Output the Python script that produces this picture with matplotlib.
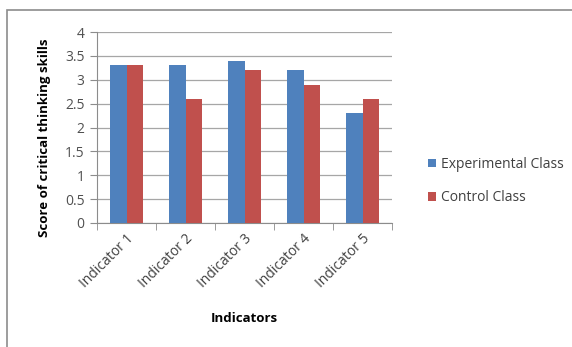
import numpy as np
import matplotlib.pyplot as plt
from matplotlib.patches import Rectangle

categories = ['Indicator 1', 'Indicator 2', 'Indicator 3', 'Indicator 4', 'Indicator 5']
experimental = [3.3, 3.3, 3.4, 3.2, 2.3]
control = [3.3, 2.6, 3.2, 2.9, 2.6]
yticks = [0, 0.5, 1, 1.5, 2, 2.5, 3, 3.5, 4]
ytick_labels = ['0', '0.5', '1', '1.5', '2', '2.5', '3', '3.5', '4']

plt.rcParams['font.family'] = ['Open Sans', 'DejaVu Sans']

fig = plt.figure(figsize=(5.72, 3.47), dpi=100)
ax = fig.add_axes([97/572, 1 - 223/347, 295/572, 191/347])

# outer chart frame (only top and left visible)
fig.patches.append(Rectangle((7/572, -0.1), 1.2, 1 - 10/347 + 0.1, transform=fig.transFigure,
                             fill=False, edgecolor='#8c8c8c', linewidth=1.2))

x = np.arange(len(categories))
w = 0.285
ax.bar(x - w/2, experimental, w, color='#4F81BD', label='Experimental Class', zorder=3)
ax.bar(x + w/2, control, w, color='#C0504D', label='Control Class', zorder=3)

ax.set_xlim(-0.5, len(categories) - 0.5)
ax.set_ylim(0, 4)
ax.set_yticks(yticks)
ax.set_yticklabels(ytick_labels, fontsize=10, color='#505050')
ax.yaxis.grid(True, color='#a6a6a6', linewidth=0.9, zorder=0)

ax.set_xticks(x)
ax.set_xticklabels(categories, rotation=45, ha='right', rotation_mode='anchor', fontsize=10, color='#404040')
ax.tick_params(axis='x', length=0, pad=6)
ax.set_xticks(np.arange(-0.5, len(categories)), minor=True)
ax.tick_params(axis='x', which='minor', length=5, color='#8c8c8c')
ax.tick_params(axis='y', length=5, color='#8c8c8c', pad=4)

for s in ['top', 'right']:
    ax.spines[s].set_visible(False)
for s in ['left', 'bottom']:
    ax.spines[s].set_color('#8c8c8c')

ax.set_xlabel('Indicators', fontsize=9.5, fontweight='bold', va='center')
ax.xaxis.set_label_coords(0.5, -0.5)
ax.set_ylabel('Score of critical thinking skills', fontsize=9.5, fontweight='bold', va='center')
ax.yaxis.set_label_coords(-0.178, 0.445)

ax.legend(loc='center left', bbox_to_anchor=(415/572, 1 - 181/347), bbox_transform=fig.transFigure,
          frameon=False, fontsize=10, handlelength=0.6, handleheight=0.6, handletextpad=0.4,
          labelspacing=1.3, labelcolor='#404040')

fig.savefig('out.png', dpi=100)
